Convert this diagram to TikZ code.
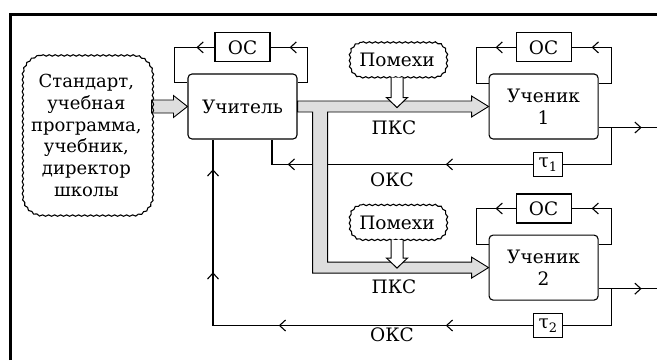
\documentclass[tikz,border=0pt]{standalone}
\usepackage{fontspec}
\setmainfont{DejaVu Serif}
\usetikzlibrary{arrows.meta,calc,decorations.markings,decorations.pathmorphing}
\usetikzlibrary{positioning}

\begin{document}
\begin{tikzpicture} [
    x=1pt, y=1pt,
    line width=1.1pt,
    every node/.style={font=\fontsize{18.5}{22}\selectfont},
    block/.style={rectangle, rounded corners=4pt, draw=black, minimum width=109pt, minimum height=65pt, align=center},
    fb/.style={rectangle, draw=black, minimum width=55pt, minimum height=29pt, inner sep=0pt},
    delay/.style={rectangle, draw=black, line width=1.7pt, minimum width=29pt, minimum height=24pt, inner sep=0pt},
    cloudy/.style={fill=white, inner sep=2pt},
    wavy/.style={decorate, decoration={snake, amplitude=0.7pt, segment length=6pt}},
    band/.style={draw=black, fill=black!13, line width=0.9pt},
    hollow/.style={draw=black, fill=white, line width=1pt},
    arr/.style={postaction={decorate, decoration={markings, mark=at position #1 with {\arrow{>}}}}},
    >={Straight Barb[length=6pt,width=11pt]}
    ]
    \useasboundingbox (0,0) rectangle (657,360);
    \draw[line width=3pt] (10,0) -- (10,346) -- (657,346);

    %Nodes
    \node[block]     (teacher)  at (242.5,253.5) {Учитель};
    \node[fb]        (os1)      [above=11pt of teacher] {ОС};
    \node[cloudy, text width=119pt, inner sep=5pt, minimum height=159pt, align=center,
          font=\fontsize{18}{21.8}\selectfont]
                     (std)      [left=36pt of teacher, yshift=-29pt]
                     {Стандарт,\\учебная\\программа,\\учебник,\\директор\\школы};
    \node[block]     (st1)      [right=191pt of teacher] {Ученик\\1};
    \node[fb]        (os2)      [above=11pt of st1] {ОС};
    \node[delay]     (tau1)     [below=12pt of st1, xshift=4.5pt] {τ\textsubscript{1}};
    \node[block]     (st2)      [below=95pt of st1] {Ученик\\2};
    \node[fb]        (os3)      [above=11pt of st2] {ОС};
    \node[delay]     (tau2)     [below=12pt of st2, xshift=4.5pt] {τ\textsubscript{2}};
    \node[cloudy, minimum width=96pt, minimum height=34pt] (noise1) at (397,300) {Помехи};
    \node[cloudy, minimum width=96pt, minimum height=34pt] (noise2) at (397,137.5) {Помехи};
    \node            (pks1)     at (394,232) {ПКС};
    \node            (oks1)     at (392,180) {ОКС};
    \node            (pks2)     at (394,73) {ПКС};
    \node            (oks2)     at (392,25) {ОКС};

    %Lines
    \draw[arr=-19pt] ([yshift=-9pt]teacher.north east) -- ++(10,0) |- (os1.east);
    \draw[arr=18pt]  (os1.west) -- ++(-40,0) |- ([yshift=-9pt]teacher.north west);
    \draw[arr=-20pt] ([yshift=-10pt]st1.north east) -- ++(13,0) |- (os2.east);
    \draw[arr=20pt]  (os2.west) -- ++(-39.5,0) |- ([yshift=-10pt]st1.north west);
    \draw[arr=-20pt] ([yshift=-10pt]st2.north east) -- ++(13,0) |- (os3.east);
    \draw[arr=20pt]  (os3.west) -- ++(-39.5,0) |- ([yshift=-10pt]st2.north west);

    \draw[arr=43pt]  ([yshift=12pt]st1.south east) -- ++(59,0);
    \draw            ([xshift=13pt,yshift=12pt]st1.south east) |- (tau1.east);
    \draw[arr=43pt]  ([yshift=12pt]st2.south east) -- ++(59,0);
    \draw            ([xshift=13pt,yshift=12pt]st2.south east) |- (tau2.east);

    \draw[arr=87pt, arr=245pt] (tau1.west) -| ([xshift=29.5pt]teacher.south);
    \draw[arr=87pt, arr=254pt, arr=373pt, arr=476pt] (tau2.west) -| ([xshift=-29.5pt]teacher.south);

    % wide channels
    \draw[band] ($(std.east |- teacher.west)+(0,6.5)$) -- ($(teacher.west)+(-14,6.5)$) -- ++(0,4.5)
        -- (teacher.west) -- ++(-14,-11) -- ++(0,4.5) -- ($(std.east |- teacher.west)+(0,-6.5)$) -- cycle;
    \draw[band] ([yshift=5.5pt]teacher.east) -- ($(st1.west)+(-17,5.5)$) -- ++(0,5)
        -- (st1.west) -- ++(-17,-10.5) -- ++(0,5)
        -- ($(teacher.east)+(30,-5.5)$)
        -- ($(teacher.east |- st2.west)+(30,5.5)$)
        -- ($(st2.west)+(-17,5.5)$) -- ++(0,5)
        -- (st2.west) -- ++(-17,-10.5) -- ++(0,5)
        -- ($(teacher.east |- st2.west)+(15,-5.5)$)
        -- ($(teacher.east)+(15,-5.5)$) -- ([yshift=-5.5pt]teacher.east) -- cycle;

    % cloud outlines
    \foreach \n/\r in {std/20, noise1/13, noise2/13}
      \draw[wavy] ($(\n.north west)+(\r,0)$) -- ($(\n.north east)+(-\r,0)$)
        arc[start angle=90, end angle=0, radius=\r]
        -- ($(\n.south east)+(0,\r)$)
        arc[start angle=0, end angle=-90, radius=\r]
        -- ($(\n.south west)+(\r,0)$)
        arc[start angle=270, end angle=180, radius=\r]
        -- ($(\n.north west)+(0,-\r)$)
        arc[start angle=180, end angle=90, radius=\r] -- cycle;

    \draw[hollow] ($(noise1.south)+(-6,0)$) -- ++(0,-20) -- ++(-4.5,0) -- ++(10.5,-10) -- ++(10.5,10) -- ++(-4.5,0) -- ++(0,20);
    \draw[hollow] ($(noise2.south)+(-6,0)$) -- ++(0,-18) -- ++(-4.5,0) -- ++(10.5,-10) -- ++(10.5,10) -- ++(-4.5,0) -- ++(0,18);
\end{tikzpicture}
\end{document}
